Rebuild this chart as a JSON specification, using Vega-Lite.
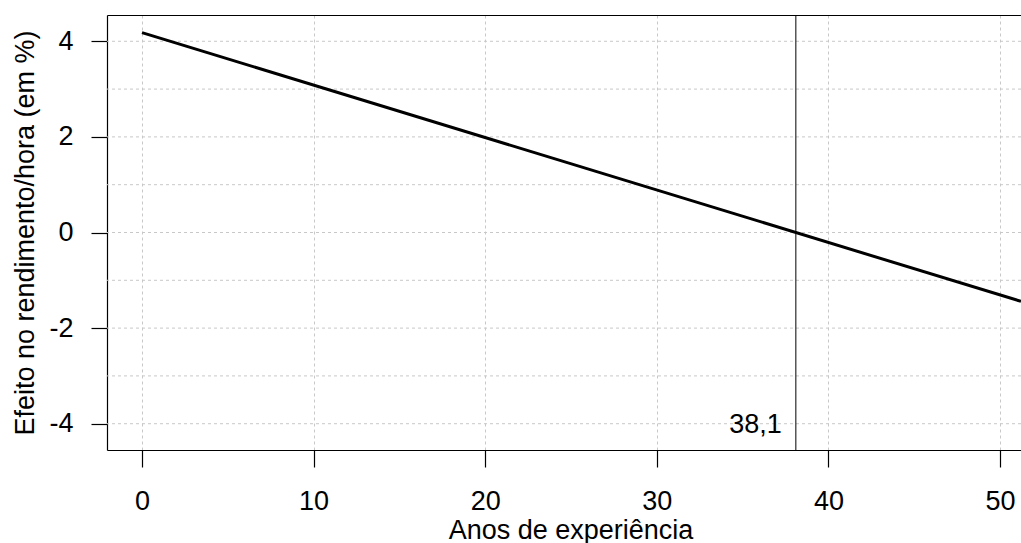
{
  "$schema": "https://vega.github.io/schema/vega-lite/v6.json",
  "width": 914,
  "height": 435,
  "autosize": {"type": "none"},
  "padding": {"left": 107, "top": 15, "right": 0, "bottom": 93},
  "background": "white",
  "config": {
    "view": {"stroke": null},
    "font": "Liberation Sans",
    "axis": {"labelFont": "Liberation Sans", "titleFont": "Liberation Sans", "labelColor": "black", "titleColor": "black", "domainColor": "black", "tickColor": "black", "titleFontWeight": "normal"}
  },
  "datasets": {
    "curva": [{"anos": 0, "efeito": 4.18}, {"anos": 51.22, "efeito": -1.44}],
    "grade": [{"y": -4}, {"y": -3}, {"y": -2}, {"y": -1}, {"y": 0}, {"y": 1}, {"y": 2}, {"y": 3}, {"y": 4}],
    "marco": [{"anos": 38.1, "efeito": -4, "rotulo": "38,1"}]
  },
  "layer": [
    {
      "data": {"name": "grade"},
      "mark": {"type": "rule", "color": "#c8c8c8", "strokeDash": [3, 3], "strokeWidth": 1},
      "encoding": {
        "y": {
          "field": "y", "type": "quantitative",
          "scale": {"domain": [-4.55, 4.55], "nice": false, "zero": false},
          "axis": {
            "values": [-4, -2, 0, 2, 4], "grid": false, "tickSize": 16, "labelPadding": 18,
            "labelExpr": "toString(datum.value)",
            "labelFontSize": 27, "title": "Efeito no rendimento/hora (em %)", "titleFontSize": 27,
            "titleX": -74, "titleBaseline": "alphabetic", "domainWidth": 1.2, "tickWidth": 1.2
          }
        }
      }
    },
    {
      "data": {"name": "curva"},
      "mark": {"type": "line", "color": "black", "strokeWidth": 3, "clip": true},
      "encoding": {
        "x": {
          "field": "anos", "type": "quantitative",
          "scale": {"domain": [-2.04, 51.22], "nice": false, "zero": false},
          "axis": {
            "values": [0, 10, 20, 30, 40, 50], "tickSize": 17, "labelPadding": 21, "labelFontSize": 27,
            "title": "Anos de experiência", "titleFontSize": 27, "titleY": 88, "titleX": 463.5,
            "titleBaseline": "alphabetic", "grid": true, "gridColor": "#c8c8c8", "gridDash": [3, 3],
            "gridWidth": 1, "domainWidth": 1.2, "tickWidth": 1.2
          }
        },
        "y": {"field": "efeito", "type": "quantitative"}
      }
    },
    {
      "data": {"name": "marco"},
      "mark": {"type": "rule", "color": "black", "strokeWidth": 1},
      "encoding": {
        "x": {
          "field": "anos", "type": "quantitative",
          "axis": {"orient": "top", "labels": false, "ticks": false, "grid": false, "title": null, "domainWidth": 1.2}
        }
      }
    },
    {
      "data": {"name": "marco"},
      "mark": {"type": "text", "align": "right", "baseline": "middle", "dx": -14, "dy": 1, "fontSize": 27, "color": "black", "font": "Liberation Sans"},
      "encoding": {
        "x": {"field": "anos", "type": "quantitative", "axis": null},
        "y": {"field": "efeito", "type": "quantitative"},
        "text": {"field": "rotulo"}
      }
    }
  ],
  "resolve": {"axis": {"x": "independent"}}
}
